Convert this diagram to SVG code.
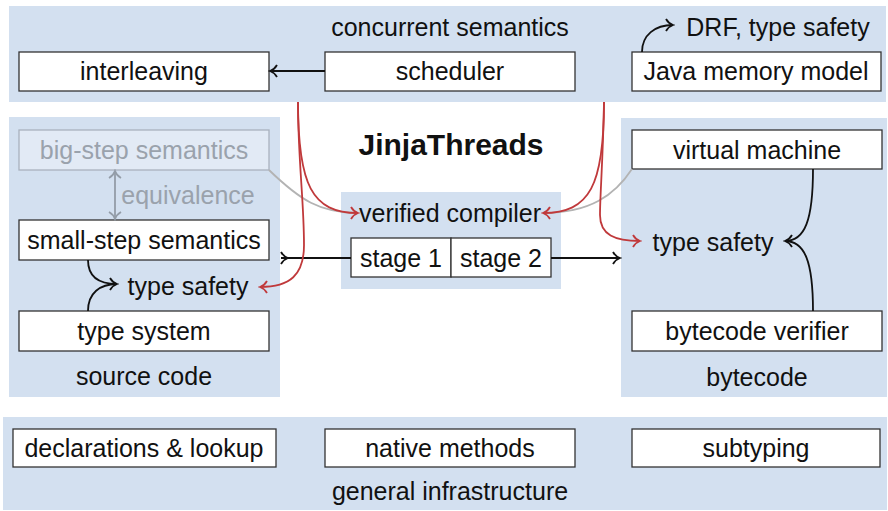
<svg xmlns="http://www.w3.org/2000/svg" width="888" height="511" viewBox="0 0 888 511">
<style>
text{font-family:"Liberation Sans",Arial,sans-serif;font-size:25px;fill:#111;text-anchor:middle}
.band{fill:#d3e0f0}
.box{fill:#fff;stroke:#333;stroke-width:1.3}
.faded{fill:#e2eaf5;stroke:#a9b1bd;stroke-width:1.3}
.ft{fill:#9aa2ac}
.k{fill:none;stroke:#111;stroke-width:1.8}
.r{fill:none;stroke:#c0393b;stroke-width:1.8}
.g{fill:none;stroke:#b3b3b3;stroke-width:1.8}
.e{fill:none;stroke:#939ca7;stroke-width:1.8}
</style>
<defs>
<marker id="hk" viewBox="-9 -7 11 14" refX="0" refY="0" markerWidth="11" markerHeight="14" orient="auto" markerUnits="userSpaceOnUse"><path d="M-7,-6 C-5,-2.5 -1.5,-0.5 0,0 C-1.5,0.5 -5,2.5 -7,6" fill="none" stroke="#111" stroke-width="1.8"/></marker>
<marker id="hr" viewBox="-9 -7 11 14" refX="0" refY="0" markerWidth="11" markerHeight="14" orient="auto" markerUnits="userSpaceOnUse"><path d="M-7,-6 C-5,-2.5 -1.5,-0.5 0,0 C-1.5,0.5 -5,2.5 -7,6" fill="none" stroke="#c0393b" stroke-width="1.8"/></marker>
<marker id="he" viewBox="-9 -7 11 14" refX="0" refY="0" markerWidth="11" markerHeight="14" orient="auto-start-reverse" markerUnits="userSpaceOnUse"><path d="M-7,-6 C-5,-2.5 -1.5,-0.5 0,0 C-1.5,0.5 -5,2.5 -7,6" fill="none" stroke="#939ca7" stroke-width="1.8"/></marker>
<marker id="tk" viewBox="-2 -7 11 14" refX="0" refY="0" markerWidth="11" markerHeight="14" orient="auto" markerUnits="userSpaceOnUse"><path d="M0,-6 C2,-2.5 5.5,-0.5 7,0 C5.5,0.5 2,2.5 0,6" fill="none" stroke="#111" stroke-width="1.8"/></marker>
</defs>

<g id="bands">
<rect class="band" x="9" y="6" width="877" height="96"/>
<rect class="band" x="9" y="117" width="271" height="280"/>
<rect class="band" x="341" y="192" width="220" height="97"/>
<rect class="band" x="621" y="118" width="266" height="279"/>
<rect class="band" x="3" y="417" width="884" height="93"/>
</g>

<g id="labels">
<text x="450" y="36">concurrent semantics</text>
<text x="451" y="155" style="font-weight:bold;font-size:30px">JinjaThreads</text>
<text x="144" y="385">source code</text>
<text x="757" y="386">bytecode</text>
<text x="450" y="500">general infrastructure</text>
</g>

<g id="interleaving"><rect class="box" x="19" y="52" width="250" height="39"/><text x="144" y="80">interleaving</text></g>
<g id="scheduler"><rect class="box" x="325" y="52" width="250" height="39"/><text x="450" y="80">scheduler</text></g>
<g id="jmm"><rect class="box" x="632" y="52" width="249" height="39"/><text x="756" y="80">Java memory model</text></g>
<g id="drf"><text x="778" y="36">DRF, type safety</text></g>

<g id="bigstep"><rect class="faded" x="19" y="130" width="250" height="40"/><text class="ft" x="144" y="159">big-step semantics</text></g>
<g id="equivalence"><text class="ft" x="188" y="204">equivalence</text></g>
<g id="smallstep"><rect class="box" x="19" y="220" width="250" height="40"/><text x="144" y="249">small-step semantics</text></g>
<g id="ts-src"><text x="188" y="295">type safety</text></g>
<g id="typesystem"><rect class="box" x="19" y="311" width="250" height="40"/><text x="144" y="340">type system</text></g>

<g id="compiler"><text x="450" y="222">verified compiler</text></g>
<g id="stage1"><rect class="box" x="351" y="238" width="100" height="39"/><text x="401" y="267">stage 1</text></g>
<g id="stage2"><rect class="box" x="451" y="238" width="100" height="39"/><text x="501" y="267">stage 2</text></g>

<g id="vm"><rect class="box" x="632" y="130" width="250" height="39"/><text x="757" y="159">virtual machine</text></g>
<g id="ts-bc"><text x="713" y="251">type safety</text></g>
<g id="verifier"><rect class="box" x="632" y="311" width="250" height="40"/><text x="757" y="340">bytecode verifier</text></g>

<g id="decl"><rect class="box" x="13" y="429" width="263" height="38"/><text x="144" y="457">declarations &amp; lookup</text></g>
<g id="native"><rect class="box" x="325" y="429" width="250" height="38"/><text x="450" y="457">native methods</text></g>
<g id="subtyping"><rect class="box" x="632" y="429" width="248" height="38"/><text x="756" y="457">subtyping</text></g>

<g id="connectors">
<path class="k" d="M325,71 L270,71" marker-end="url(#hk)"/>
<path class="k" d="M642,52 C642,35 655,25 673,25" marker-end="url(#hk)"/>
<path class="e" d="M115,171 L115,219" marker-start="url(#he)" marker-end="url(#he)"/>
<path class="k" d="M88,260 C88,278 100,284 117,284" marker-end="url(#hk)"/>
<path class="k" d="M88,311 C88,293 100,284 117,284"/>
<path class="k" d="M813,169 C813,220 805,241 785,241" marker-end="url(#hk)"/>
<path class="k" d="M813,311 C813,262 805,241 785,241"/>
<path class="k" d="M281,258 L351,258" marker-start="url(#tk)"/>
<path class="k" d="M551,258 L620,258" marker-end="url(#hk)"/>
<path class="g" d="M269,170 C300,200 320,213 358,213"/>
<path class="g" d="M632,169 C615,195 590,213 543,213"/>
<path class="r" d="M298,102 C298,185 312,213 358,213" marker-end="url(#hr)"/>
<path class="r" d="M298,102 C298,160 304,200 304,245 C304,275 290,287 260,287" marker-end="url(#hr)"/>
<path class="r" d="M604,102 C604,185 590,213 543,213" marker-end="url(#hr)"/>
<path class="r" d="M604,102 C603,160 600,195 600,215 C600,235 615,241 640,241" marker-end="url(#hr)"/>
</g>
</svg>
